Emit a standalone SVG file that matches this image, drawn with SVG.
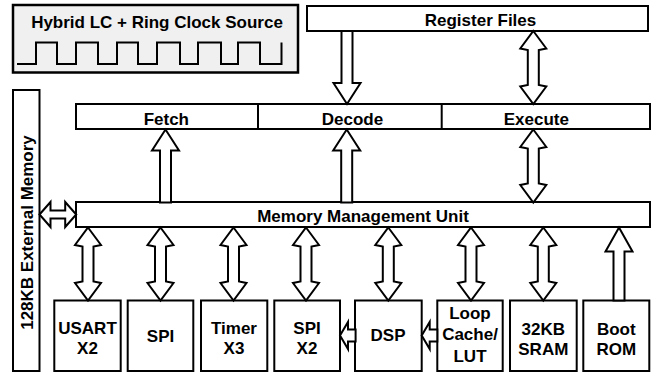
<svg xmlns="http://www.w3.org/2000/svg" width="654" height="373" viewBox="0 0 654 373">
<style>
.box{fill:#fff;stroke:#000;stroke-width:2}
.arr{fill:#fff;stroke:#000;stroke-width:2;stroke-linejoin:miter}
.t{font-family:"Liberation Sans",Arial,sans-serif;font-weight:bold;font-size:17px;text-anchor:middle;fill:#000}
</style>
<defs>
<path id="dv" d="M0,0 L13,17.5 L5.5,19 L5.5,54 L13,55.5 L0,73 L-13,55.5 L-5.5,54 L-5.5,19 L-13,17.5 Z"/>
<path id="up" d="M0,0 L13.5,21 L5.5,21 L5.5,73 L-5.5,73 L-5.5,21 L-13.5,21 Z"/>
<path id="upb" d="M0,0 L13.5,24 L5.5,24 L5.5,73 L-5.5,73 L-5.5,24 L-13.5,24 Z"/>
<path id="dh" d="M0,0 L11,-12.5 L11,-4 L25.7,-4 L25.7,-12.5 L36.7,0 L25.7,12.5 L25.7,4 L11,4 L11,12.5 Z"/>
<path id="lh" d="M0,0 L8,-13.5 L8,-6 L15.6,-6 L15.6,6 L8,6 L8,13.5 Z"/>
</defs>

<g id="clock">
<rect x="13" y="5" width="285" height="67.5" fill="#f0f0f0" stroke="#000" stroke-width="2.5"/>
<text class="t" x="157" y="27.7">Hybrid LC + Ring Clock Source</text>
<path d="M17,64 H36 V42.5 H57 V64 H76 V42.5 H98 V64 H117 V42.5 H138 V64 H157 V42.5 H180 V64 H198 V42.5 H221 V64 H238 V42.5 H260 V64 H281.5 V42.5" fill="none" stroke="#000" stroke-width="2"/>
</g>

<g id="register-files">
<rect class="box" x="307" y="6" width="341" height="25"/>
<text class="t" x="480.5" y="26">Register Files</text>
</g>

<g id="pipeline">
<rect class="box" x="76" y="104" width="574" height="25"/>
<line x1="258" y1="104" x2="258" y2="129" stroke="#000" stroke-width="2"/>
<line x1="441.7" y1="104" x2="441.7" y2="129" stroke="#000" stroke-width="2"/>
</g>
<g id="fetch"><text class="t" x="166.3" y="125">Fetch</text></g>
<g id="decode"><text class="t" x="352.5" y="125">Decode</text></g>
<g id="execute"><text class="t" x="536.3" y="125">Execute</text></g>

<g id="mmu">
<rect class="box" x="76" y="202" width="574" height="25"/>
<text class="t" x="363" y="221.5">Memory Management Unit</text>
</g>

<g id="ext-mem">
<rect class="box" x="13" y="90" width="26.5" height="281"/>
<text class="t" transform="translate(33,232.5) rotate(-90)" x="0" y="0">128KB External Memory</text>
</g>

<g id="usart"><rect class="box" x="54.3" y="300.5" width="66.4" height="70.5"/><text class="t" x="87.5" y="334">USART</text><text class="t" x="87.5" y="354.3">X2</text></g>
<g id="spi"><rect class="box" x="127.7" y="300.5" width="65.6" height="70.5"/><text class="t" x="160.5" y="341.5">SPI</text></g>
<g id="timer"><rect class="box" x="201" y="300.5" width="66.3" height="70.5"/><text class="t" x="234" y="333.5">Timer</text><text class="t" x="234" y="354.3">X3</text></g>
<g id="spi-x2"><rect class="box" x="274.3" y="300.5" width="65.7" height="70.5"/><text class="t" x="307" y="334">SPI</text><text class="t" x="307" y="354.3">X2</text></g>
<g id="dsp"><rect class="box" x="355" y="300.5" width="66.7" height="70.5"/><text class="t" x="388" y="340.5">DSP</text></g>
<g id="loop-cache"><rect class="box" x="437.3" y="300.5" width="65.4" height="70.5"/><text class="t" x="470" y="319">Loop</text><text class="t" x="470" y="340">Cache/</text><text class="t" x="470" y="361.5">LUT</text></g>
<g id="sram"><rect class="box" x="510" y="300.5" width="66.7" height="70.5"/><text class="t" x="543.3" y="335">32KB</text><text class="t" x="543.3" y="355">SRAM</text></g>
<g id="boot-rom"><rect class="box" x="583.3" y="300.5" width="66" height="70.5"/><text class="t" x="616.3" y="334.5">Boot</text><text class="t" x="616.3" y="355">ROM</text></g>

<g id="connectors">
<use href="#dv" class="arr" x="88" y="227.5"/>
<use href="#dv" class="arr" x="160.5" y="227.5"/>
<use href="#dv" class="arr" x="233.5" y="227.5"/>
<use href="#dv" class="arr" x="306" y="227.5"/>
<use href="#dv" class="arr" x="388.3" y="227.5"/>
<use href="#dv" class="arr" x="471" y="227.5"/>
<use href="#dv" class="arr" x="543.3" y="227.5"/>
<use href="#upb" class="arr" x="619" y="227.5"/>
<use href="#dv" class="arr" x="533.3" y="31" transform="translate(0,0)"/>
<use href="#dv" class="arr" x="533.3" y="129.5"/>
<use href="#up" class="arr" x="165.5" y="129.5"/>
<use href="#up" class="arr" x="346.7" y="129.5"/>
<use href="#up" class="arr" transform="translate(347,104) scale(1,-1)"/>
<use href="#dh" class="arr" x="39.5" y="214.5"/>
<use href="#lh" class="arr" x="340" y="335.5"/>
<use href="#lh" class="arr" x="421.7" y="335.5"/>
</g>
</svg>
